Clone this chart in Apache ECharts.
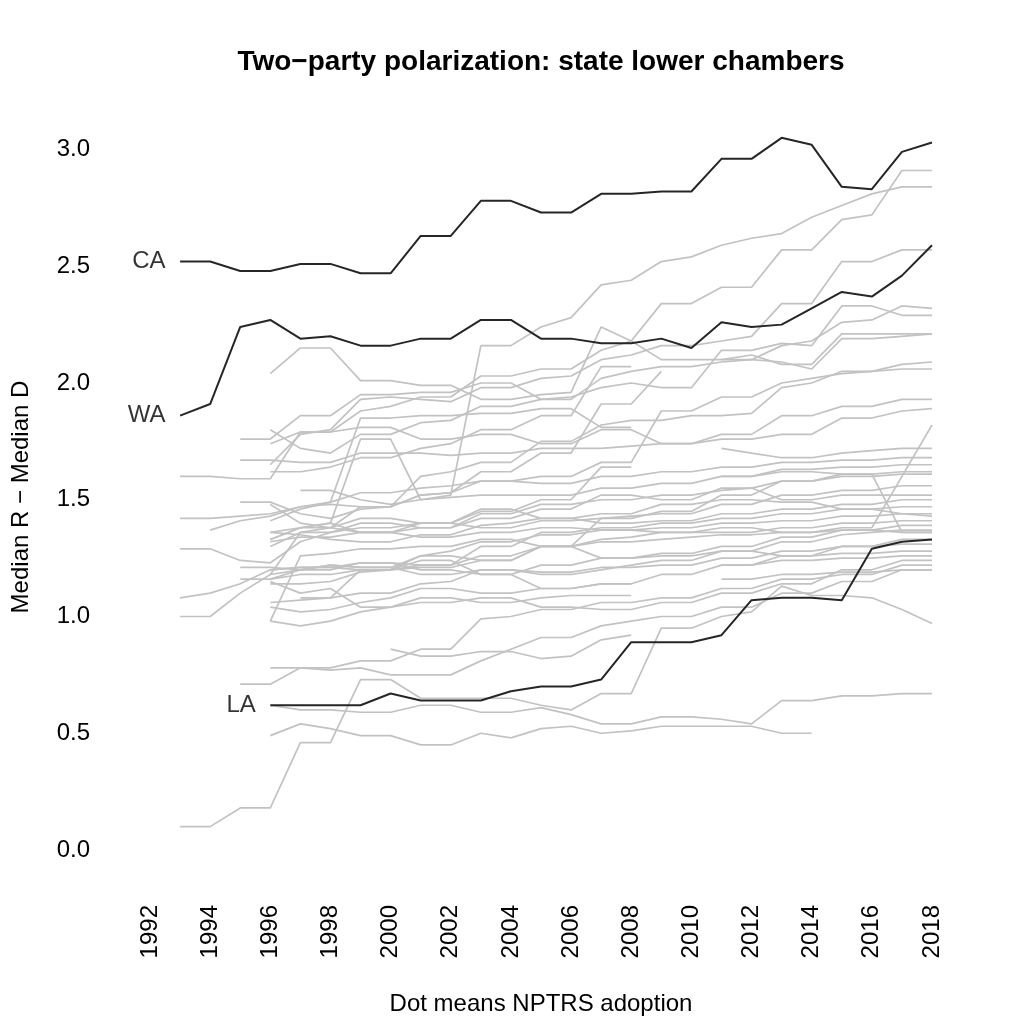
<!DOCTYPE html>
<html>
<head>
<meta charset="utf-8">
<script src="https://cdn.jsdelivr.net/npm/echarts@6/dist/echarts.min.js"></script>
<style>
html,body{margin:0;padding:0;background:#fff;}
#chart{width:1024px;height:1024px;}
</style>
</head>
<body>
<div id="chart"></div>
<script>
const years = [1993,1994,1995,1996,1997,1998,1999,2000,2001,2002,2003,2004,2005,2006,2007,2008,2009,2010,2011,2012,2013,2014,2015,2016,2017,2018];
const yTickValues = [0,0.5,1,1.5,2,2.5,3];
const yTickLabels = ['0.0','0.5','1.0','1.5','2.0','2.5','3.0'];
const xTickLabels = ['1992','1994','1996','1998','2000','2002','2004','2006','2008','2010','2012','2014','2016','2018'];

const n = null;
// highlighted states
const CA = [2.52,2.52,2.48,2.48,2.51,2.51,2.47,2.47,2.63,2.63,2.78,2.78,2.73,2.73,2.81,2.81,2.82,2.82,2.96,2.96,3.05,3.02,2.84,2.83,2.99,3.03];
const WA = [1.86,1.91,2.24,2.27,2.19,2.20,2.16,2.16,2.19,2.19,2.27,2.27,2.19,2.19,2.17,2.17,2.19,2.15,2.26,2.24,2.25,2.32,2.39,2.37,2.46,2.59];
const LA = [n,n,n,0.62,0.62,0.62,0.62,0.67,0.64,0.64,0.64,0.68,0.70,0.70,0.73,0.89,0.89,0.89,0.92,1.07,1.08,1.08,1.07,1.29,1.32,1.33];

// other states (grey)
const g01 = [n,n,n,2.04,2.15,2.15,2.01,2.01,1.99,1.99,1.93,1.93,1.95,1.96,2.24,2.18,2.10,2.10,2.10,2.12,2.08,2.08,2.21,2.21,2.21,2.21];
const g02 = [n,n,n,1.80,1.72,1.70,1.78,1.78,1.83,1.84,1.90,1.90,1.93,1.94,1.98,2.00,1.98,1.98,2.14,2.14,2.17,2.16,2.33,2.33,2.29,2.29];
const g03 = [n,n,1.76,1.76,1.86,1.86,1.95,1.95,1.96,1.96,2.00,2.00,1.93,1.93,2.02,2.05,2.07,2.07,2.09,2.10,2.16,2.18,2.26,2.27,2.33,2.32];
const g04 = [n,n,n,1.74,1.79,1.79,1.88,1.90,1.94,1.94,2.03,2.03,2.06,2.06,2.14,2.18,2.34,2.34,2.41,2.41,2.57,2.57,2.70,2.72,2.91,2.91];
const g05 = [n,n,1.67,1.67,1.66,1.66,1.70,1.70,1.70,1.69,1.70,1.70,1.72,1.72,1.72,1.73,1.74,1.74,1.76,1.76,1.78,1.78,1.85,1.85,1.88,1.89];
const g06 = [n,n,n,1.65,1.78,1.80,1.93,1.94,1.93,1.92,1.98,1.98,2.02,2.03,2.10,2.12,2.16,2.16,2.18,2.20,2.34,2.34,2.52,2.52,2.57,2.57];
const g07 = [1.60,1.60,1.59,1.59,1.79,1.79,1.81,1.81,1.76,1.76,1.78,1.78,1.74,1.74,1.80,1.80,1.74,1.74,1.78,1.78,1.86,1.86,1.90,1.90,1.93,1.93];
const g08 = [n,n,n,n,1.54,1.54,1.50,1.48,1.50,1.52,2.16,2.16,2.24,2.28,2.42,2.44,2.52,2.54,2.59,2.62,2.64,2.71,2.76,2.81,2.84,2.84];
const g09 = [n,n,1.49,1.49,1.44,1.42,1.46,1.47,1.60,1.62,1.66,1.66,1.75,1.75,1.82,1.84,1.84,1.86,1.86,1.87,1.98,2.00,2.05,2.05,2.08,2.09];
const g10 = [1.42,1.42,1.43,1.44,1.47,1.48,1.47,1.47,1.52,1.53,1.58,1.58,1.60,1.60,1.66,1.66,1.88,1.88,1.94,1.94,2.00,2.02,2.04,2.05,2.06,2.06];
const g11 = [n,n,n,1.41,1.46,1.49,1.85,1.85,1.86,1.86,1.87,1.87,1.89,1.89,1.81,1.81,n,n,1.72,1.70,1.68,1.68,1.70,1.71,1.72,1.72];
const g12 = [n,1.37,1.41,1.43,1.47,1.49,1.53,1.53,1.55,1.56,1.58,1.58,1.57,1.57,1.60,1.60,1.62,1.62,1.64,1.64,1.66,1.66,1.67,1.67,1.68,1.68];
const g13 = [n,n,n,1.36,1.38,1.40,1.76,1.76,1.50,1.51,1.52,1.52,1.52,1.52,1.55,1.55,1.57,1.57,1.60,1.60,1.63,1.63,1.64,1.64,1.65,1.65];
const g14 = [n,n,n,1.33,1.38,1.38,1.47,1.47,1.52,1.53,1.62,1.62,1.70,1.70,1.91,1.91,2.05,n,n,n,n,n,n,n,n,n];
const g15 = [n,n,n,1.32,1.34,1.34,1.36,1.36,1.38,1.38,1.42,1.42,1.46,1.46,1.52,1.52,1.50,1.50,1.55,1.55,1.58,1.58,1.60,1.60,1.61,1.61];
const g16 = [n,n,n,1.30,1.36,1.36,1.38,1.38,1.40,1.40,1.38,1.38,1.41,1.41,1.42,1.43,1.44,1.44,1.48,1.48,1.52,1.52,1.54,1.54,1.56,1.56];
const g17 = [1.29,1.29,1.24,1.23,1.32,1.36,1.40,1.40,1.38,1.38,1.44,1.44,1.48,1.48,1.50,1.50,1.52,1.52,1.54,1.55,1.50,1.50,1.52,1.52,1.52,1.52];
const g18 = [n,n,1.21,1.21,1.20,1.20,1.23,1.23,1.22,1.22,1.26,1.26,1.30,1.30,1.32,1.32,1.33,1.34,1.35,1.35,1.36,1.36,1.38,1.38,1.60,1.82];
const g19 = [n,n,n,1.18,1.36,1.38,1.42,1.42,1.40,1.40,1.46,1.46,1.42,1.42,1.40,1.40,1.41,1.41,1.44,1.44,1.46,1.46,1.48,1.48,1.50,1.50];
const g20 = [n,n,1.16,1.16,1.18,1.18,1.20,1.20,1.22,1.22,1.30,1.30,1.36,1.36,1.38,1.38,1.40,1.40,1.42,1.42,1.44,1.44,1.46,1.46,1.47,1.47];
const g21 = [n,n,n,1.16,1.20,1.22,1.21,1.21,1.26,1.28,1.32,1.32,1.35,1.35,1.37,1.37,1.38,1.38,1.40,1.40,1.41,1.41,1.43,1.43,1.44,1.44];
const g22 = [n,n,n,1.14,1.14,1.15,1.19,1.20,1.26,1.26,1.24,1.24,1.30,1.30,1.33,1.34,1.36,1.36,1.36,1.36,1.38,1.38,1.40,1.40,1.41,1.41];
const g23 = [1.08,1.10,1.14,1.20,1.21,1.21,1.23,1.23,1.20,1.20,1.18,1.18,1.22,1.22,1.25,1.25,1.27,1.27,1.30,1.30,1.34,1.34,1.37,1.37,1.39,1.39];
const g24 = [n,n,n,n,1.08,1.08,1.10,1.10,1.14,1.15,1.20,1.20,1.18,1.18,1.20,1.22,1.24,1.24,1.28,1.28,1.32,1.32,1.35,1.36,1.37,1.37];
const g25 = [n,n,n,1.06,1.07,1.08,1.20,1.20,1.21,1.21,1.24,1.24,1.30,1.30,1.42,1.42,1.45,1.45,1.52,1.52,1.58,1.58,1.61,1.61,1.36,1.36];
const g26 = [n,n,n,1.04,1.02,1.03,1.06,1.08,1.12,1.12,1.10,1.10,1.12,1.12,1.14,1.14,1.18,1.18,1.22,1.22,1.26,1.26,1.30,1.30,1.33,1.33];
const g27 = [1.00,1.00,1.10,1.18,1.20,1.22,1.21,1.21,1.18,1.18,1.20,1.20,1.19,1.19,1.21,1.21,1.22,1.22,1.25,1.25,1.28,1.28,1.30,1.30,1.31,1.31];
const g28 = [n,n,n,0.98,1.26,1.27,1.29,1.29,1.30,1.30,1.33,1.33,1.30,1.30,1.25,1.25,1.26,1.26,1.28,1.28,1.26,1.26,1.27,1.27,1.28,1.28];
const g29 = [n,n,n,0.98,0.96,0.98,1.02,1.04,1.06,1.06,1.08,1.08,1.04,1.04,1.03,1.03,1.06,1.06,1.10,1.10,1.14,1.14,1.20,1.20,1.24,1.24];
const g30 = [n,n,n,0.78,0.78,0.77,0.78,0.75,0.75,0.75,0.81,0.86,0.91,0.91,0.96,0.98,1.00,1.00,1.04,1.04,1.10,1.10,1.15,1.15,1.20,1.20];
const g31 = [n,n,0.71,0.71,0.78,0.78,0.81,0.81,0.86,0.86,0.99,1.00,1.03,1.03,1.06,1.06,1.08,1.08,1.12,1.12,1.16,1.16,1.18,1.18,1.22,1.22];
const g32 = [0.10,0.10,0.18,0.18,0.46,0.46,0.73,0.73,0.65,0.65,0.65,0.65,0.62,0.60,0.67,0.67,0.95,0.95,1.00,1.02,1.13,1.09,1.09,1.08,1.03,0.97];
const g33 = [n,n,n,0.62,0.60,0.60,0.59,0.59,0.62,0.62,0.59,0.59,0.61,0.58,0.54,0.54,0.57,0.57,0.56,0.54,0.64,0.64,0.66,0.66,0.67,0.67];
const g34 = [n,n,n,0.49,0.54,0.52,0.49,0.49,0.45,0.45,0.50,0.48,0.52,0.53,0.50,0.51,0.53,0.53,0.53,0.53,0.50,0.50,n,n,n,n];
const g35 = [n,n,n,n,n,n,n,0.86,0.83,0.83,0.85,0.85,0.82,0.83,0.90,0.92,n,n,n,n,n,n,n,n,n,n];
const g36 = [n,n,n,1.62,1.62,1.64,1.68,1.68,1.72,1.74,1.80,1.80,1.86,1.86,2.07,2.07,n,n,2.10,2.10,2.09,2.06,2.19,2.19,2.20,2.21];
const g37 = [n,n,n,1.48,1.40,1.38,1.36,1.36,1.40,1.40,1.45,1.45,1.50,1.50,1.64,1.64,n,n,1.60,1.60,1.62,1.62,1.61,1.61,1.62,1.62];
const g38 = [n,n,n,1.20,1.21,1.21,1.20,1.20,1.24,1.24,1.18,1.18,1.12,1.12,1.14,1.14,n,n,1.22,1.22,1.24,1.24,1.25,1.25,1.26,1.26];
const g39 = [n,n,n,1.15,1.10,1.12,1.04,1.04,1.08,1.08,1.06,1.06,1.08,1.09,1.09,1.09,n,n,1.16,1.16,1.18,1.18,1.19,1.19,1.20,1.20];
const g40 = [n,n,n,1.33,1.38,1.40,1.36,1.36,1.34,1.34,1.36,1.36,1.38,1.38,1.37,1.37,1.36,1.36,1.38,1.38,1.36,1.36,1.37,1.37,1.36,1.36];
const g41 = [n,n,n,1.36,1.35,1.33,1.32,1.32,1.35,1.35,1.39,1.40,1.42,1.42,1.44,1.44,1.48,1.48,1.50,1.50,1.49,1.49,1.46,1.46,1.44,1.43];

const greyLines = [g01,g02,g03,g04,g05,g06,g07,g08,g09,g10,g11,g12,g13,g14,g15,g16,g17,g18,g19,g20,g21,g22,g23,g24,g25,g26,g27,g28,g29,g30,g31,g32,g33,g34,g35,g36,g37,g38,g39,g40,g41];
const blackLines = [['CA', CA], ['WA', WA], ['LA', LA]];

const FONT = 'Liberation Sans, Arial, Helvetica, sans-serif';

function toData(arr) {
  return years.map((y, i) => [y, arr[i] === null ? '-' : arr[i]]);
}

const series = [];
greyLines.forEach((arr, k) => {
  series.push({
    type: 'line', name: 'g' + k, data: toData(arr),
    showSymbol: false, symbol: 'none', silent: true,
    lineStyle: { color: '#c2c2c2', width: 1.7 },
    z: 2
  });
});
const labelPts = [];
blackLines.forEach(([name, arr]) => {
  series.push({
    type: 'line', name: name, data: toData(arr),
    showSymbol: false, symbol: 'none', silent: true,
    lineStyle: { color: '#262626', width: 2 },
    z: 5
  });
  const i0 = arr.findIndex(v => v !== null);
  labelPts.push({ value: [years[i0], arr[i0]], name: name });
});
series.push({
  type: 'scatter', data: labelPts, symbolSize: 1, silent: true,
  itemStyle: { color: 'rgba(0,0,0,0)' },
  label: { show: true, position: 'left', distance: 14, formatter: p => p.name,
           fontFamily: FONT, fontSize: 24, color: '#000' },
  z: 6
});

const chart = echarts.init(document.getElementById('chart'), null, { renderer: 'canvas' });
chart.setOption({
  animation: false,
  backgroundColor: '#fff',
  grid: { left: 150, right: 92, top: 850 - 3.1 * 233.5, bottom: 174, containLabel: false },
  xAxis: {
    type: 'value', min: 1992, max: 2018, interval: 2,
    axisLine: { show: false }, axisTick: { show: false }, splitLine: { show: false },
    axisLabel: {
      rotate: 90, margin: 55, fontFamily: FONT, fontSize: 24, color: '#000',
      formatter: v => { const s = String(v); return xTickLabels.indexOf(s) >= 0 ? s : ''; }
    }
  },
  yAxis: {
    type: 'value', min: 0, max: 3.1, interval: 0.5,
    axisLine: { show: false }, axisTick: { show: false }, splitLine: { show: false },
    axisLabel: {
      margin: 60, fontFamily: FONT, fontSize: 24, color: '#000',
      formatter: v => {
        const i = yTickValues.findIndex(t => Math.abs(t - v) < 1e-6);
        return i >= 0 ? yTickLabels[i] : '';
      }
    }
  },
  graphic: [
    { type: 'text', x: 541, y: 62, silent: true,
      style: { text: 'Two\u2212party polarization: state lower chambers', fontFamily: FONT, fontSize: 28, fontWeight: 'bold',
               fill: '#000', align: 'center', verticalAlign: 'middle' } },
    { type: 'text', x: 541, y: 1004, silent: true,
      style: { text: 'Dot means NPTRS adoption', fontFamily: FONT, fontSize: 24,
               fill: '#000', align: 'center', verticalAlign: 'middle' } },
    { type: 'text', x: 21, y: 497, rotation: Math.PI / 2, silent: true,
      style: { text: 'Median R \u2212 Median D', fontFamily: FONT, fontSize: 24,
               fill: '#000', align: 'center', verticalAlign: 'middle' } }
  ],
  series: series
});
</script>
</body>
</html>
